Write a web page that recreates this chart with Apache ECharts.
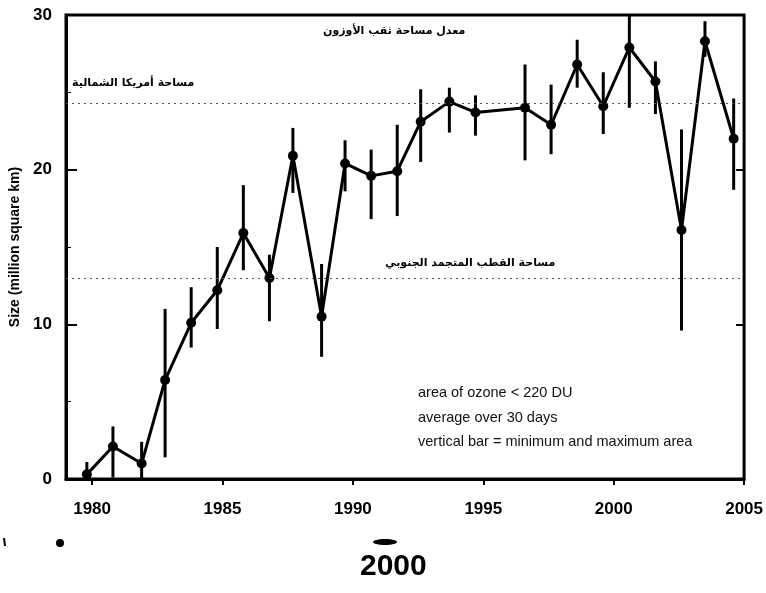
<!DOCTYPE html>
<html>
<head>
<meta charset="utf-8">
<script src="https://cdn.jsdelivr.net/npm/echarts@6/dist/echarts.min.js"></script>
<style>
  html, body { margin: 0; padding: 0; background: #fff; }
  #chart { width: 766px; height: 593px; }
</style>
</head>
<body>
<div id="chart"></div>
<script>
// Ozone hole size per season (decimal year of the averaged period)
const years = [1979.8, 1980.8, 1981.9, 1982.8, 1983.8, 1984.8, 1985.8, 1986.8, 1987.7, 1988.8,
               1989.7, 1990.7, 1991.7, 1992.6, 1993.7, 1994.7, 1996.6, 1997.6, 1998.6, 1999.6,
               2000.6, 2001.6, 2002.6, 2003.5, 2004.6];
// 30-day mean area, million km²
const meanArea = [0.3, 2.1, 1.0, 6.4, 10.1, 12.2, 15.9, 13.0, 20.9, 10.5,
                  20.4, 19.6, 19.9, 23.1, 24.4, 23.7, 24.0, 22.9, 26.8, 24.1,
                  27.9, 25.7, 16.1, 28.3, 22.0];
// minimum and maximum area within the period
const minArea = [0.0, 0.1, 0.0, 1.4, 8.5, 9.7, 13.5, 10.2, 18.5, 7.9,
                 18.6, 16.8, 17.0, 20.5, 22.4, 22.2, 20.6, 21.0, 25.3, 22.3,
                 24.0, 23.6, 9.6, 27.3, 18.7];
const maxArea = [1.1, 3.4, 2.4, 11.0, 12.4, 15.0, 19.0, 14.5, 22.7, 13.9,
                 21.9, 21.3, 22.9, 25.2, 25.3, 24.8, 26.8, 25.5, 28.4, 26.3,
                 30.0, 27.0, 22.6, 29.6, 24.6];
// reference areas (million km²)
const northAmericaArea = 24.3;
const antarcticaArea = 13.0;
// axis tick labels
const yearTicks = [1980, 1985, 1990, 1995, 2000, 2005];

const meanData = years.map((x, i) => [x, meanArea[i]]);
const barData = years.map((x, i) => [x, minArea[i], maxArea[i]]);

const chart = echarts.init(document.getElementById('chart'), null, { renderer: 'canvas' });

const labelFont = 'Liberation Sans Narrow, Liberation Sans, Arial, sans-serif';

chart.setOption({
  animation: false,
  backgroundColor: '#ffffff',
  grid: {
    left: 60, right: 20, top: 15, bottom: 114,
    show: true, borderColor: '#000', borderWidth: 3, backgroundColor: 'transparent'
  },
  xAxis: {
    type: 'value', min: 1979, max: 2005,
    axisLine: { show: true, lineStyle: { color: '#000', width: 3 } },
    axisTick: { show: true, customValues: yearTicks, length: 6, lineStyle: { color: '#000', width: 2 } },
    axisLabel: {
      customValues: yearTicks, color: '#000', fontFamily: labelFont, fontWeight: 'bold',
      fontSize: 17, margin: 22,
      formatter: function (v) { return String(v); }
    },
    splitLine: { show: false }
  },
  yAxis: [{
    type: 'value', min: 0, max: 30, interval: 10,
    name: 'Size (million square km)', nameLocation: 'middle', nameGap: 44,
    nameTextStyle: { color: '#000', fontFamily: 'Liberation Sans, Arial, sans-serif', fontWeight: 'bold', fontSize: 14 },
    axisLine: { show: true, lineStyle: { color: '#000', width: 3 } },
    axisTick: { show: true, inside: true, length: 11, lineStyle: { color: '#000', width: 2 } },
    minorTick: { show: true, splitNumber: 2, length: 5, lineStyle: { color: '#000', width: 1 } },
    axisLabel: { color: '#000', fontFamily: labelFont, fontWeight: 'bold', fontSize: 17, margin: 14 },
    splitLine: { show: false }
  }, {
    type: 'value', min: 0, max: 30, interval: 10, position: 'right',
    axisLine: { show: false },
    axisTick: { show: true, inside: true, length: 8, lineStyle: { color: '#000', width: 2 } },
    axisLabel: { show: false },
    splitLine: { show: false }
  }],
  series: [{
    type: 'custom',
    name: 'range',
    data: barData,
    encode: { x: 0, y: [1, 2] },
    renderItem: function (params, api) {
      const lo = api.coord([api.value(0), api.value(1)]);
      const hi = api.coord([api.value(0), api.value(2)]);
      return {
        type: 'line',
        shape: { x1: lo[0], y1: lo[1], x2: hi[0], y2: hi[1] },
        style: { stroke: '#000', lineWidth: 3 }
      };
    },
    z: 3
  }, {
    type: 'line',
    name: 'mean',
    data: meanData,
    symbol: 'circle', symbolSize: 10,
    lineStyle: { color: '#000', width: 3 },
    itemStyle: { color: '#000' },
    z: 4,
    markLine: {
      silent: true, symbol: 'none', label: { show: false },
      lineStyle: { color: '#555', type: [2, 4], width: 1.2 },
      data: [{ yAxis: northAmericaArea }, { yAxis: antarcticaArea }]
    }
  }],
  graphic: [
    { type: 'text', left: 323, top: 26, style: { text: 'معدل مساحة ثقب الأوزون', fill: '#000', font: 'bold 11px "DejaVu Sans"' } },
    { type: 'text', left: 72, top: 78, style: { text: 'مساحة أمريكا الشمالية', fill: '#000', font: 'bold 11px "DejaVu Sans"' } },
    { type: 'text', left: 385, top: 258, style: { text: 'مساحة القطب المتجمد الجنوبي', fill: '#000', font: 'bold 11px "DejaVu Sans"' } },
    { type: 'text', left: 418, top: 385, style: { text: 'area of ozone < 220 DU', fill: '#111', font: '14.5px "Liberation Sans"' } },
    { type: 'text', left: 418, top: 410, style: { text: 'average over 30 days', fill: '#111', font: '14.5px "Liberation Sans"' } },
    { type: 'text', left: 418, top: 434, style: { text: 'vertical bar = minimum and maximum area', fill: '#111', font: '14.5px "Liberation Sans"' } },
    { type: 'text', left: 360, top: 552, style: { text: '2000', fill: '#000', font: 'bold 30px "Liberation Sans"' } },
    { type: 'ellipse', shape: { cx: 385, cy: 542, rx: 12, ry: 3 }, style: { fill: '#000' } },
    { type: 'circle', shape: { cx: 60, cy: 543, r: 4 }, style: { fill: '#000' } },
    { type: 'line', shape: { x1: 4, y1: 538, x2: 5, y2: 546 }, style: { stroke: '#000', lineWidth: 2 } }
  ]
});
</script>
</body>
</html>
